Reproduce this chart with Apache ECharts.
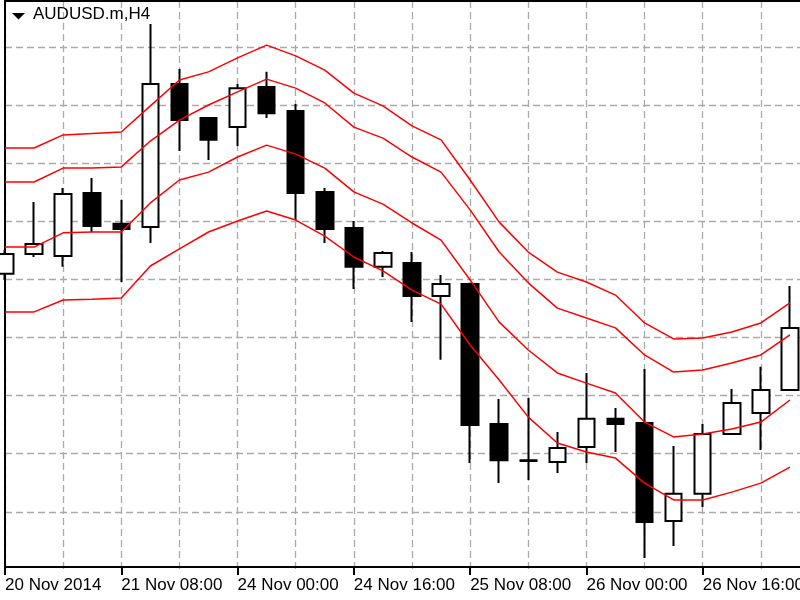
<!DOCTYPE html>
<html><head><meta charset="utf-8">
<script src="https://cdn.jsdelivr.net/npm/echarts@6/dist/echarts.min.js"></script>
<style>html,body{margin:0;padding:0;background:#fff}#c{width:800px;height:600px}</style>
</head><body><div id="c"></div>
<script>
// Bar times (H4). The last entry is an empty slot beyond the right edge.
const times = ["20 Nov 16:00","20 Nov 20:00","21 Nov 00:00","21 Nov 04:00","21 Nov 08:00","21 Nov 12:00","21 Nov 16:00","21 Nov 20:00",
  "24 Nov 00:00","24 Nov 04:00","24 Nov 08:00","24 Nov 12:00","24 Nov 16:00","24 Nov 20:00","25 Nov 00:00","25 Nov 04:00",
  "25 Nov 08:00","25 Nov 12:00","25 Nov 16:00","25 Nov 20:00","26 Nov 00:00","26 Nov 04:00","26 Nov 08:00","26 Nov 12:00",
  "26 Nov 16:00","26 Nov 20:00","27 Nov 00:00","27 Nov 04:00","27 Nov 08:00"];
const tickLabels = ["20 Nov 2014","21 Nov 08:00","24 Nov 00:00","24 Nov 16:00","25 Nov 08:00","26 Nov 00:00","26 Nov 16:00"];

const openP  = [0.86219,0.86287,0.86280,0.86497,0.86391,0.86380,0.86872,0.86755,0.86724,0.86862,0.86779,0.86501,0.86377,0.86243,0.86256,0.86143,0.86184,0.85702,0.85578,0.85572,0.85623,0.85720,0.85706,0.85369,0.85462,0.85668,0.85740,0.85819];
const closeP = [0.86287,0.86322,0.86494,0.86384,0.86373,0.86872,0.86748,0.86680,0.86858,0.86772,0.86497,0.86373,0.86243,0.86291,0.86143,0.86184,0.85699,0.85578,0.85575,0.85620,0.85720,0.85702,0.85365,0.85462,0.85668,0.85775,0.85819,0.86033];
const lowP   = [0.86198,0.86277,0.86243,0.86363,0.86191,0.86325,0.86642,0.86611,0.86659,0.86755,0.86404,0.86325,0.86167,0.86208,0.86053,0.85923,0.85568,0.85499,0.85510,0.85534,0.85568,0.85606,0.85241,0.85283,0.85417,0.85668,0.85613,0.85819];
const highP  = [0.86301,0.86466,0.86514,0.86549,0.86473,0.87079,0.86924,0.86759,0.86872,0.86914,0.86803,0.86514,0.86401,0.86298,0.86294,0.86215,0.86188,0.85788,0.85792,0.85675,0.85878,0.85757,0.85892,0.85627,0.85702,0.85823,0.85899,0.86177];

const bandUpper2 = [0.86652,0.86652,0.86697,0.86702,0.86707,0.86797,0.86886,0.86914,0.86962,0.87006,0.86969,0.86920,0.86841,0.86797,0.86728,0.86680,0.86542,0.86397,0.86294,0.86225,0.86191,0.86146,0.86050,0.85995,0.85998,0.86019,0.86050,0.86119];
const bandUpper1 = [0.86535,0.86535,0.86583,0.86583,0.86587,0.86676,0.86748,0.86800,0.86845,0.86889,0.86858,0.86807,0.86724,0.86686,0.86621,0.86569,0.86439,0.86294,0.86188,0.86101,0.86067,0.86033,0.85940,0.85881,0.85888,0.85912,0.85940,0.86009];
const bandLower1 = [0.86311,0.86311,0.86360,0.86363,0.86363,0.86463,0.86542,0.86569,0.86621,0.86662,0.86631,0.86583,0.86501,0.86459,0.86394,0.86335,0.86198,0.86053,0.85957,0.85878,0.85843,0.85809,0.85709,0.85658,0.85668,0.85685,0.85709,0.85785];
const bandLower2 = [0.86088,0.86088,0.86129,0.86132,0.86136,0.86246,0.86305,0.86363,0.86401,0.86435,0.86404,0.86349,0.86277,0.86229,0.86163,0.86115,0.85974,0.85854,0.85726,0.85637,0.85606,0.85585,0.85499,0.85441,0.85441,0.85468,0.85499,0.85554];

const candles = openP.map((o, i) => [o, closeP[i], lowP[i], highP[i]]);

const chart = echarts.init(document.getElementById('c'), null, {renderer: 'canvas'});
const FONT = '"Liberation Sans", Arial, sans-serif';
const GRID_LINE = {color: '#aaaaaa', width: 1.3, type: [7, 4]};
const redLine = (name, data) => ({
  name, type: 'line', data, showSymbol: false, symbol: 'none', smooth: false,
  lineStyle: {color: '#ff0000', width: 1.5}, z: 5, silent: true
});
chart.setOption({
  animation: false,
  backgroundColor: '#ffffff',
  title: {
    text: 'AUDUSD.m,H4', left: 33, top: 6, padding: 0,
    textStyle: {fontFamily: FONT, fontSize: 17, fontWeight: 'normal', color: '#000'}
  },
  graphic: [{type: 'polygon', shape: {points: [[12, 13], [25, 13], [18.5, 19.5]]}, style: {fill: '#000'}}],
  grid: {left: 5, top: 1, width: 814, bottom: 30, outerBoundsMode: 'none', containLabel: false},
  xAxis: [{
    type: 'category', data: times, boundaryGap: false, position: 'bottom', offset: -3,
    axisLine: {onZero: false, lineStyle: {color: '#000', width: 2}},
    axisTick: {show: true, interval: 3, length: 8, lineStyle: {color: '#000', width: 2}},
    axisLabel: {
      interval: 3, align: 'left', margin: 10, color: '#000',
      fontFamily: FONT, fontSize: 17,
      formatter: (v, i) => (i % 4 === 0 && tickLabels[i / 4] !== undefined) ? tickLabels[i / 4] : ''
    },
    splitLine: {show: true, interval: 1, lineStyle: GRID_LINE}
  }, {
    type: 'category', data: times, boundaryGap: false, position: 'top',
    axisLine: {onZero: false, lineStyle: {color: '#000', width: 2}},
    axisTick: {show: false}, axisLabel: {show: false}, splitLine: {show: false}
  }],
  yAxis: {
    type: 'value', min: 0.852, max: 0.871578, interval: 0.002, scale: true,
    axisLine: {show: true, onZero: false, lineStyle: {color: '#000', width: 2}},
    axisTick: {show: false}, axisLabel: {show: false},
    splitLine: {show: true, showMinLine: false, showMaxLine: false, lineStyle: GRID_LINE}
  },
  series: [
    {
      name: 'AUDUSD', type: 'candlestick', data: candles, barWidth: 17, clip: true,
      itemStyle: {color: '#ffffff', color0: '#000000', borderColor: '#000000', borderColor0: '#000000', borderColorDoji: '#000000', borderWidth: 2},
      z: 3, silent: true
    },
    redLine('Upper 2', bandUpper2),
    redLine('Upper 1', bandUpper1),
    redLine('Lower 1', bandLower1),
    redLine('Lower 2', bandLower2)
  ]
});
</script>
</body></html>
